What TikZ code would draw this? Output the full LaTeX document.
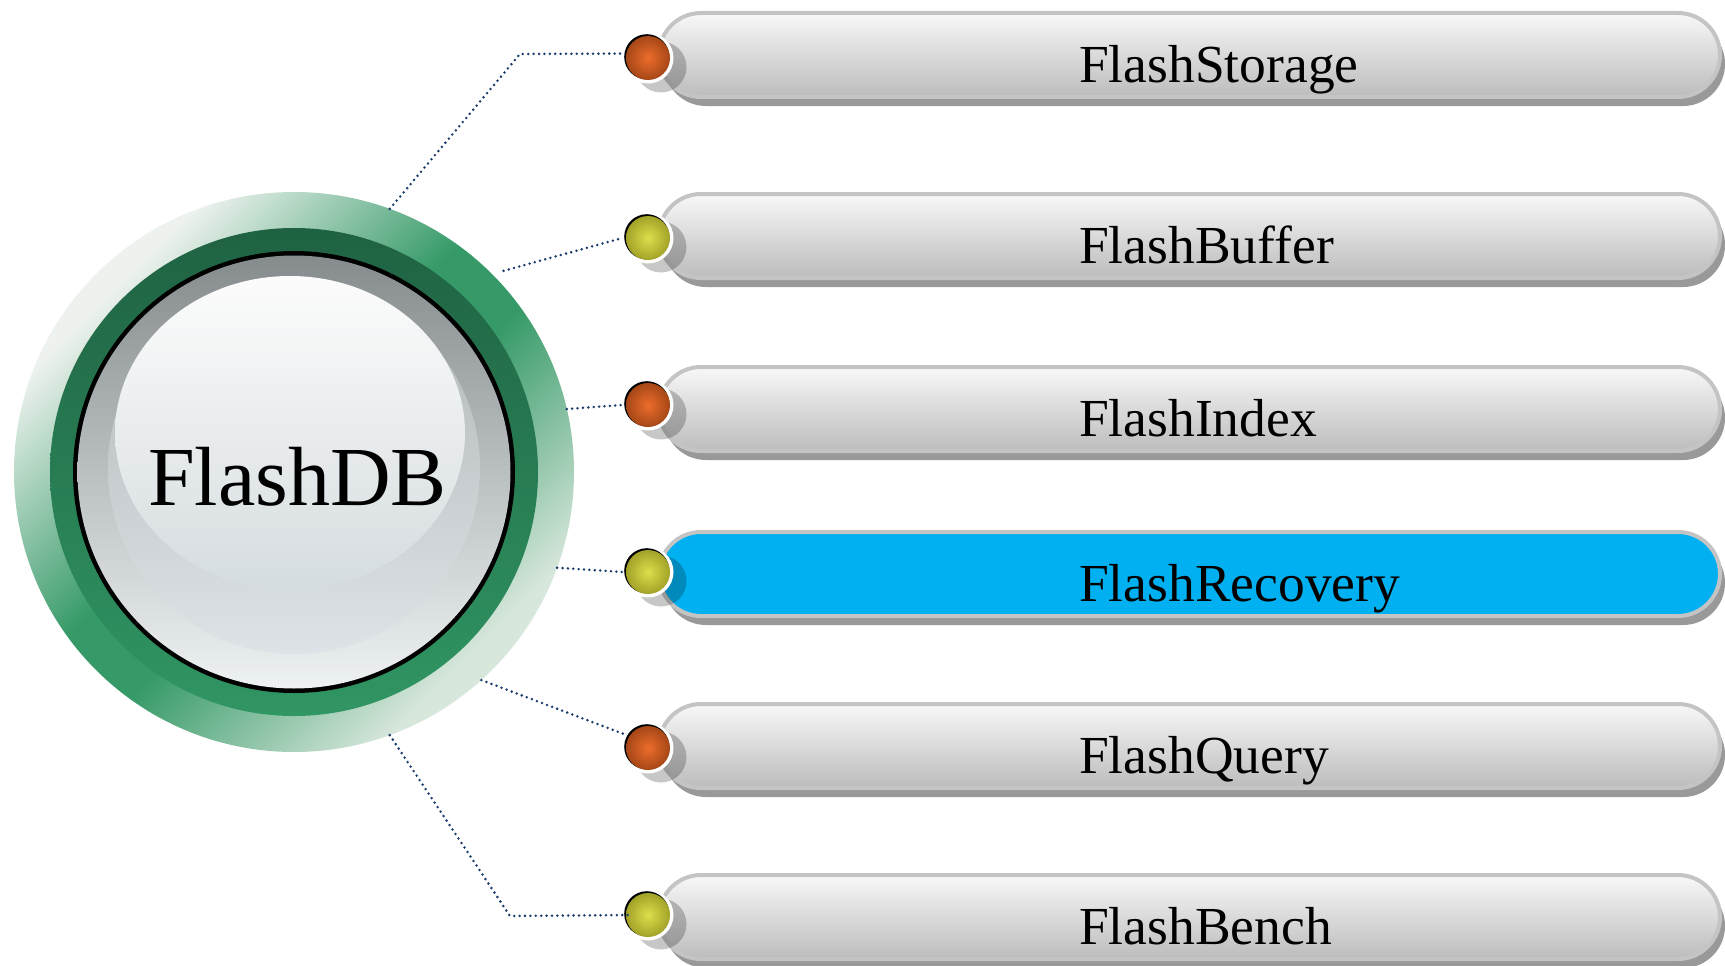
\documentclass[tikz,border=0pt]{standalone}
\usepackage{fontspec}
\setmainfont{Liberation Serif}
\usetikzlibrary{shapes.misc,shadows}
\definecolor{pillshadow}{HTML}{999999}
\definecolor{pillborder}{HTML}{C4C4C4}
\definecolor{pilltop}{HTML}{F8F8F8}
\definecolor{pillbot}{HTML}{BCBCBC}
\definecolor{hiblue}{HTML}{00B0F0}
\definecolor{dotblue}{HTML}{1B3D6C}
\definecolor{orin}{HTML}{EC6C2C}
\definecolor{orout}{HTML}{A64717}
\definecolor{yein}{HTML}{DEDE4C}
\definecolor{yeout}{HTML}{A2A228}
\definecolor{ringlta}{HTML}{EDF2EE}
\definecolor{ringltb}{HTML}{D8E7DC}
\definecolor{ringgreen}{HTML}{369A68}
\definecolor{darktop}{HTML}{1F6242}
\definecolor{darkbot}{HTML}{309663}
\definecolor{bevtop}{HTML}{868C8E}
\definecolor{bevbot}{HTML}{EEF2F3}
\definecolor{facetop}{HTML}{B0B5B7}
\definecolor{facebot}{HTML}{DDE3E6}
\definecolor{hltop}{HTML}{FCFCFC}
\definecolor{hlbot}{HTML}{D5DCDF}
\pgfdeclareverticalshading{ringshade}{100bp}{color(0bp)=(ringltb); color(27bp)=(ringltb); color(46bp)=(ringgreen); color(54bp)=(ringgreen); color(73bp)=(ringlta); color(100bp)=(ringlta)}
\tikzset{
  hubnode/.style={circle, minimum size=560pt, inner sep=0pt, outer sep=0pt, shading=ringshade, shading angle=45},
  pillbox/.style={rounded rectangle, minimum width=1061pt, minimum height=84pt, inner sep=0pt, outer sep=0pt,
    draw=pillborder, line width=4pt, top color=pilltop, bottom color=pillbot,
    general shadow={fill=pillshadow, shadow xshift=5pt, shadow yshift=-9pt}},
  bluepill/.style={pillbox, top color=hiblue, bottom color=hiblue},
  lbl/.style={anchor=base west, inner sep=0pt, font=\fontsize{53.5}{60}\selectfont},
  hublbl/.style={anchor=base, inner sep=0pt, font=\fontsize{84}{90}\selectfont},
  ballnode/.style={circle, minimum size=51pt, inner sep=0pt, outer sep=0pt, fill=white,
    general shadow={fill=black, opacity=0.22, shadow xshift=13pt, shadow yshift=-9pt}},
  conn/.style={dotblue, line width=2.8pt, line cap=round, dash pattern=on 0pt off 5.4pt}
}
\newcommand\ballpaint[3]{%
  \fill[black] ([shift={(-1.2pt,1.2pt)}]#1.center) circle (22.6);
  \shade[inner color=#2, outer color=#3] (#1.center) circle (22);
}
\begin{document}
\begin{tikzpicture}[x=1pt, y=-1pt]
\useasboundingbox (0,0) rectangle (1725,966);
% hub
\node[hubnode] (hub) at (294,472) {};
\shade[top color=darktop, bottom color=darkbot] (hub.center) circle (244);
\fill[black] (hub.center) circle (221);
\shade[top color=bevtop, bottom color=bevbot] (hub.center) circle (216.5);
\shade[top color=facetop, bottom color=facebot] ([yshift=4pt]hub.center) circle (186);
\shade[top color=hltop, bottom color=hlbot] ([shift={(-4pt,39pt)}]hub.center) ellipse (175 and 157);
\node[hublbl] (hubl) at (297.5,505) {FlashDB};
% pills
\node[pillbox]  (p1) at (1189.5,55)  {};
\node[pillbox]  (p2) at (1189.5,236) {};
\node[pillbox]  (p3) at (1189.5,409) {};
\node[bluepill] (p4) at (1189.5,574) {};
\node[pillbox]  (p5) at (1189.5,746) {};
\node[pillbox]  (p6) at (1189.5,917) {};
\node[lbl] (t1) at (1079,82)  {FlashStorage};
\node[lbl] (t2) at (1079,263) {FlashBuffer};
\node[lbl] (t3) at (1079,436) {FlashIndex};
\node[lbl] (t4) at (1079,601) {FlashRecovery};
\node[lbl] (t5) at (1079,773) {FlashQuery};
\node[lbl] (t6) at (1079,944) {FlashBench};
% balls
\node[ballnode] (b1) at (648,58)  {};
\node[ballnode] (b2) at (648,238) {};
\node[ballnode] (b3) at (648,405) {};
\node[ballnode] (b4) at (648,572) {};
\node[ballnode] (b5) at (648,748) {};
\node[ballnode] (b6) at (648,915) {};
\ballpaint{b1}{orin}{orout}
\ballpaint{b2}{yein}{yeout}
\ballpaint{b3}{orin}{orout}
\ballpaint{b4}{yein}{yeout}
\ballpaint{b5}{orin}{orout}
\ballpaint{b6}{yein}{yeout}
% connectors
\coordinate (k1) at (520,54);
\coordinate (k6) at (510,916);
\draw[conn] (hub.70.9) -- (k1) -- (b1.170);
\draw[conn, shorten <=12pt] (hub.45.2) -- (b2.west);
\draw[conn] (hub.13.6) -- (b3.west);
\draw[conn] (hub.-20.6) -- (b4.west);
\draw[conn] (hub.-48.6) -- (b5.149);
\draw[conn] (hub.-70.7) -- (k6) -- ([xshift=10pt]b6.west);
\end{tikzpicture}
\end{document}
